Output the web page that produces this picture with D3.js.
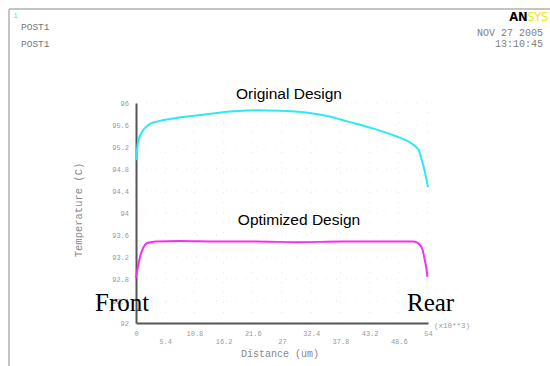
<!DOCTYPE html>
<html>
<head>
<meta charset="utf-8">
<script src="https://cdn.jsdelivr.net/npm/d3@7"></script>
<style>
  html, body { margin: 0; padding: 0; background: #fff; }
  svg { display: block; }
</style>
</head>
<body>
<svg id="chart" width="550" height="366"></svg>
<script>
// Distance along the part (x10**3 um) and temperature (C)
const originalDist = [0, 0.4, 1.35, 2.6, 4.2, 6.3, 10, 14.2, 18, 22.3, 26.6, 30, 32.7, 36, 38.9, 43, 46, 48.2, 50, 51.3, 52.3, 52.8, 53.3, 53.7, 54];
const originalTemp = [94.96, 95.3, 95.51, 95.62, 95.67, 95.71, 95.76, 95.81, 95.85, 95.87, 95.86, 95.84, 95.81, 95.75, 95.67, 95.56, 95.47, 95.39, 95.32, 95.24, 95.14, 94.98, 94.8, 94.62, 94.47];

const optimizedDist = [0, 0.35, 0.75, 1.3, 2, 2.8, 3.8, 8, 15, 22, 30, 38, 45, 50, 51.2, 52, 52.5, 53, 53.4, 53.7, 53.9];
const optimizedTemp = [92.82, 93.02, 93.2, 93.36, 93.45, 93.47, 93.48, 93.49, 93.48, 93.48, 93.47, 93.48, 93.48, 93.48, 93.48, 93.46, 93.42, 93.33, 93.15, 93.0, 92.84];

const yTicks = [92, 92.4, 92.8, 93.2, 93.6, 94, 94.4, 94.8, 95.2, 95.6, 96];
const xTicks = [0, 5.4, 10.8, 16.2, 21.6, 27, 32.4, 37.8, 43.2, 48.6, 54];
const xTickLabels = ["0", "5.4", "10.8", "16.2", "21.6", "27", "32.4", "37.8", "43.2", "48.6", "54"];

const svg = d3.select("#chart");
const mono = "'Liberation Mono', 'DejaVu Sans Mono', monospace";

// Frame of the plot window
svg.append("line").attr("x1", 9).attr("x2", 550).attr("y1", 9).attr("y2", 9)
  .attr("stroke", "#c4c4c4").attr("stroke-width", 2);
svg.append("line").attr("x1", 9).attr("x2", 9).attr("y1", 9).attr("y2", 366)
  .attr("stroke", "#c4c4c4").attr("stroke-width", 2);

// Window number and title lines
svg.append("text").attr("x", 13).attr("y", 18).attr("fill", "#44e8f0")
  .attr("font-family", mono).attr("font-size", 8).text("1");
svg.append("text").attr("x", 21).attr("y", 30).attr("fill", "#777")
  .attr("font-family", mono).attr("font-size", 9.5).text("POST1");
svg.append("text").attr("x", 21).attr("y", 47).attr("fill", "#777")
  .attr("font-family", mono).attr("font-size", 9.5).text("POST1");

// Logo
const logo = svg.append("text").attr("x", 548).attr("y", 21).attr("text-anchor", "end")
  .attr("font-family", "'DejaVu Sans', sans-serif").attr("font-weight", "bold")
  .attr("font-size", 11.5).attr("letter-spacing", -0.3);
logo.append("tspan").attr("fill", "#000").text("AN");
logo.append("tspan").attr("fill", "#f2e600").attr("font-weight", "normal").text("SYS");

// Date and time stamp
svg.append("text").attr("x", 543).attr("y", 36).attr("text-anchor", "end").attr("fill", "#808080")
  .attr("font-family", mono).attr("font-size", 10).text("NOV 27 2005");
svg.append("text").attr("x", 543).attr("y", 47).attr("text-anchor", "end").attr("fill", "#808080")
  .attr("font-family", mono).attr("font-size", 10).text("13:10:45");

// Scales
const x = d3.scaleLinear().domain([0, 54]).range([136, 428]);
const y = d3.scaleLinear().domain([92, 96]).range([323, 103]);

// Faint dotted grid
const grid = svg.append("g").attr("stroke", "#e6e6e6").attr("stroke-width", 1)
  .attr("stroke-dasharray", "1,9");
yTicks.slice(1).forEach(t => {
  grid.append("line").attr("x1", x(0)).attr("x2", x(54)).attr("y1", y(t)).attr("y2", y(t));
});
xTicks.slice(1).forEach(t => {
  grid.append("line").attr("x1", x(t)).attr("x2", x(t)).attr("y1", y(92)).attr("y2", y(96));
});

// Y axis
const yAxis = svg.append("g").attr("transform", `translate(${x(0)},0)`)
  .call(d3.axisLeft(y).tickValues(yTicks).tickSize(0).tickPadding(7)
    .tickFormat(d => d3.format("~g")(d)));
yAxis.select(".domain").attr("stroke", "#555").attr("stroke-width", 2);
yAxis.selectAll("text").attr("fill", "#999").attr("font-family", mono).attr("font-size", 7);

// X axis with labels staggered over two rows
const xAxis = svg.append("g").attr("transform", `translate(0,${y(92)})`)
  .call(d3.axisBottom(x).tickValues(xTicks).tickSize(0).tickPadding(8)
    .tickFormat((d, i) => xTickLabels[i]));
xAxis.select(".domain").attr("stroke", "#555").attr("stroke-width", 2);
xAxis.selectAll("text").attr("fill", "#999").attr("font-family", mono).attr("font-size", 7)
  .attr("dy", (d, i) => i % 2 === 0 ? "0.71em" : "1.85em");

svg.append("text").attr("x", 434).attr("y", 328).attr("fill", "#999")
  .attr("font-family", mono).attr("font-size", 7.5).text("(x10**3)");

// Axis titles
svg.append("text").attr("x", 280).attr("y", 357).attr("text-anchor", "middle").attr("fill", "#888")
  .attr("font-family", mono).attr("font-size", 10).text("Distance (um)");
svg.append("text").attr("transform", "translate(82,210) rotate(-90)").attr("text-anchor", "middle")
  .attr("fill", "#888").attr("font-family", mono).attr("font-size", 10.5).text("Temperature (C)");

// Temperature curves
const line = d3.line().x(d => x(d[0])).y(d => y(d[1])).curve(d3.curveMonotoneX);
svg.append("path").datum(d3.zip(originalDist, originalTemp)).attr("d", line)
  .attr("fill", "none").attr("stroke", "#2de9f2").attr("stroke-width", 2);
svg.append("path").datum(d3.zip(optimizedDist, optimizedTemp)).attr("d", line)
  .attr("fill", "none").attr("stroke", "#f52ef0").attr("stroke-width", 2);

// Annotations
const sans = "'Liberation Sans', Arial, sans-serif";
svg.append("text").attr("x", 289).attr("y", 99).attr("text-anchor", "middle").attr("fill", "#000")
  .attr("font-family", sans).attr("font-size", 15.5).text("Original Design");
svg.append("text").attr("x", 299).attr("y", 225).attr("text-anchor", "middle").attr("fill", "#000")
  .attr("font-family", sans).attr("font-size", 15.5).text("Optimized Design");

// End labels sit over the lowest tick labels
const serif = "'Liberation Serif', 'Times New Roman', serif";
svg.append("text").attr("x", 95).attr("y", 311).attr("fill", "#000")
  .attr("font-family", serif).attr("font-size", 25).text("Front");
svg.append("text").attr("x", 407).attr("y", 311).attr("fill", "#000")
  .attr("font-family", serif).attr("font-size", 25).text("Rear");
</script>
</body>
</html>
